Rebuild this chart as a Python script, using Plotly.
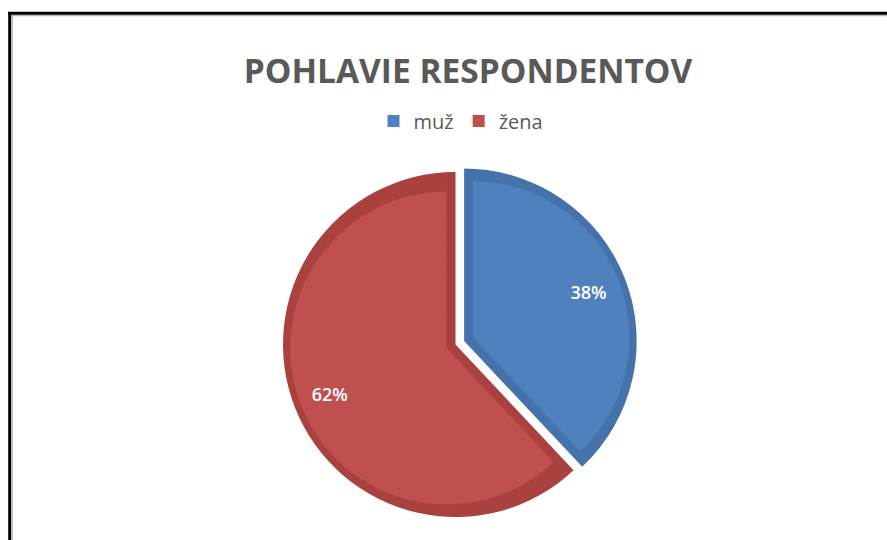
import plotly.graph_objects as go

# ---- data ----
labels = ["muž", "žena"]
values = [38, 62]
title_text = "POHLAVIE RESPONDENTOV"

# ---- styling ----
fill_colors = ["#4F81BD", "#C0504D"]
band_colors = ["#4572AA", "#A9423F"]

W, H = 887, 540
cx, cy = 455.5, 344.5      # pixel centre of the pie
R = 172.5                  # outer radius (px)
shift_blue = 9.3           # explode distance of first slice (px)
b = 9.0                    # width of darker rim (px)
k = 1.075                  # 1/sin(half-angle)


def domain_for(r, maxpull):
    h = r * (1 + maxpull)
    return dict(x=[(cx - h) / W, (cx + h) / W],
                y=[(H - cy - h) / H, (H - cy + h) / H])


# outer (darker rim) pie
pA = [shift_blue / R, 0]
# inner (lighter fill) pie
rB = R - 1.8 * b
pB = [(shift_blue + k * b) / rB, (k * b) / rB]
# transparent pie only used to place the percentage labels further out
rT = 100.0
rc = 1 - 1 / (1 + 1 / 0.9298)
pT = [(143 - rc * rT) / rT, (137 - rc * rT) / rT]

fig = go.Figure()
fig.add_trace(go.Pie(
    labels=labels, values=values, sort=False, direction="clockwise", rotation=0,
    pull=pA, marker=dict(colors=band_colors, line=dict(width=0)),
    textinfo="none", showlegend=False, hoverinfo="skip",
    domain=domain_for(R, max(pA)),
))
fig.add_trace(go.Pie(
    labels=labels, values=values, sort=False, direction="clockwise", rotation=0,
    pull=pB, marker=dict(colors=fill_colors, line=dict(width=0)),
    textinfo="none", showlegend=True,
    domain=domain_for(rB, max(pB)),
))
fig.add_trace(go.Pie(
    labels=labels, values=values, sort=False, direction="clockwise", rotation=0,
    pull=pT, marker=dict(colors=["rgba(0,0,0,0)", "rgba(0,0,0,0)"], line=dict(width=0)),
    textinfo="percent", textposition="inside", insidetextorientation="horizontal",
    textfont=dict(family="Open Sans", size=18, color="white", weight=600),
    showlegend=False, hoverinfo="skip",
    domain=domain_for(rT, max(pT)),
))

fig.update_layout(
    width=W, height=H,
    margin=dict(l=0, r=0, t=0, b=0),
    paper_bgcolor="white", plot_bgcolor="white",
    title=dict(text=title_text, x=468 / W, xanchor="center", y=1 - 71 / H, yanchor="middle",
               font=dict(family="Open Sans", size=33.5, color="#595959", weight="bold")),
    legend=dict(orientation="h", x=461 / W, xanchor="center", y=1 - 121 / H, yanchor="middle",
                font=dict(family="Open Sans", size=20, color="#595959"),
                itemclick=False, itemdoubleclick=False, bgcolor="rgba(0,0,0,0)"),
    shapes=[
        dict(type="line", xref="paper", yref="paper", x0=9.7 / W, x1=9.7 / W, y0=-0.05, y1=1 - 12 / H,
             line=dict(color="black", width=3)),
        dict(type="line", xref="paper", yref="paper", x0=8 / W, x1=1.05, y0=1 - 13.3 / H, y1=1 - 13.3 / H,
             line=dict(color="black", width=3)),
        dict(type="line", xref="paper", yref="paper", x0=12.2 / W, x1=12.2 / W, y0=-0.05, y1=1 - 15 / H,
             line=dict(color="#a0a0a0", width=1)),
        dict(type="line", xref="paper", yref="paper", x0=11.5 / W, x1=1.05, y0=1 - 15.7 / H, y1=1 - 15.7 / H,
             line=dict(color="#a0a0a0", width=1)),
    ],
)

fig.write_html("out.html", config={"displayModeBar": False},
               post_script="document.body.style.margin='0';document.body.style.overflow='hidden';")
